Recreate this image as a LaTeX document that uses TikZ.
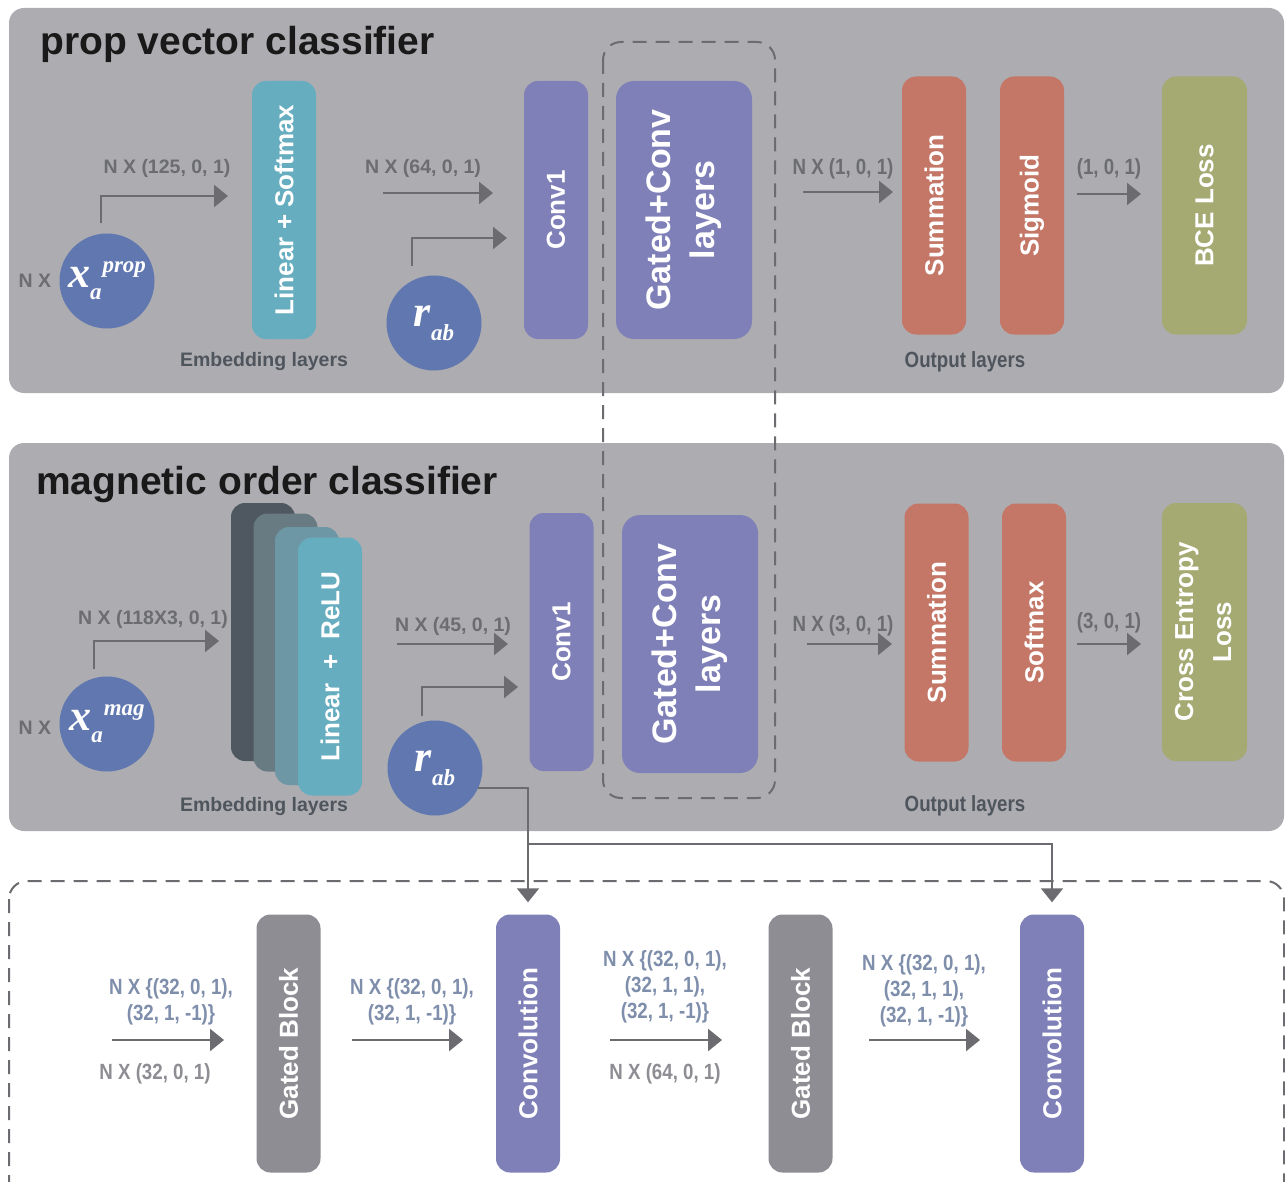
\documentclass[tikz,border=0pt]{standalone}
\usepackage{fontspec}
\setmainfont{Liberation Sans}
\newfontfamily\narrowfnt[FakeStretch=0.85]{Liberation Sans}
\newfontfamily\seriffnt{Liberation Serif}
\usetikzlibrary{arrows.meta}

\definecolor{panelgray}{HTML}{ADACB1}
\definecolor{atomblue}{HTML}{6077B0}
\definecolor{embteal}{HTML}{66ADC0}
\definecolor{emba}{HTML}{4F5860}
\definecolor{embb}{HTML}{687B83}
\definecolor{embc}{HTML}{6D97A5}
\definecolor{convpurple}{HTML}{8080B9}
\definecolor{outred}{HTML}{C47767}
\definecolor{lossgreen}{HTML}{A5AA73}
\definecolor{gategray}{HTML}{8E8D93}
\definecolor{arrgray}{HTML}{6B6B70}
\definecolor{lblgray}{HTML}{6C6D71}
\definecolor{lblblue}{HTML}{7E8EAB}
\definecolor{capgray}{HTML}{4F555C}

\newcommand{\vtext}[1]{\rotatebox{90}{#1}}
\newcommand{\vtwo}[2]{\rotatebox{90}{\begin{tabular}{@{}c@{}}#1\\#2\end{tabular}}}
\newcommand{\atomx}[1]{{\fontsize{44}{44}\selectfont x}\raisebox{-12pt}{\fontsize{23}{23}\selectfont a}\kern1pt\raisebox{15pt}{\fontsize{23}{23}\selectfont #1}}
\newcommand{\bondr}{{\fontsize{44}{44}\selectfont r}\raisebox{-14pt}{\fontsize{23}{23}\selectfont ab}}

\tikzset{
  layerbox/.style={rounded corners=14pt, inner sep=0pt, minimum width=64pt, minimum height=258pt, text=white, font=\fontsize{26}{30}\selectfont\bfseries},
  widebox/.style={layerbox, minimum width=136pt, rounded corners=18pt, font=\fontsize{34}{44}\selectfont\bfseries},
  atomnode/.style={circle, fill=atomblue, minimum size=95pt, inner sep=0pt, text=white, font=\seriffnt\bfseries\itshape},
  arr/.style={draw=arrgray, line width=2.5pt, -{Triangle[length=14pt,width=22pt]}},
  feed/.style={arr, line width=2pt},
  dimlbl/.style={text=lblgray, font=\fontsize{19.5}{22}\selectfont\bfseries},
  narlbl/.style={text=lblgray, font=\narrowfnt\fontsize{22}{26}\selectfont\bfseries, align=center},
  layercap/.style={text=capgray, font=\fontsize{19.5}{22}\selectfont\bfseries},
  boxdash/.style={draw=arrgray, line width=2pt, dash pattern=on 14pt off 9pt, rounded corners=18pt},
  paneltitle/.style={anchor=base west, inner sep=0pt, text=black!90, font=\fontsize{39}{44}\selectfont\bfseries}
}

\begin{document}
\begin{tikzpicture}[x=1pt, y=-1pt]
\useasboundingbox (0,0) rectangle (1285,1182);
\clip (0,0) rectangle (1285,1182);
\fill[white] (0,0) rectangle (1285,1182);
% panels
\fill[panelgray, rounded corners=15pt] (9,8) rectangle (1284,393);
\fill[panelgray, rounded corners=15pt] (9,443) rectangle (1284,831);
\draw[boxdash] (9,881) rectangle (1284,1230);
\draw[boxdash] (603,42) rectangle (775,798);

\node[paneltitle] (t1) at (40,55) {prop vector classifier};
\node[paneltitle] (t2) at (36,494) {magnetic order classifier};

% prop vector classifier
\node[atomnode] (xprop) at (107,281) {\atomx{prop}};
\node[dimlbl] (nx1) at (35,281) {N X};
\node[layerbox, fill=embteal] (linsoft) at (284,210) {\vtext{Linear + Softmax}};
\node[layercap] (emb1cap) at (264,362) {Embedding layers};
\node[atomnode] (rab1) at (434,323) {\bondr};
\node[layerbox, fill=convpurple] (conv1a) at (556,210) {\vtext{Conv1}};
\node[widebox, fill=convpurple] (gca) at (684,210) {\vtwo{Gated+Conv}{layers}};
\node[layerbox, fill=outred] (suma) at (934,205.5) {\vtext{Summation}};
\node[layerbox, fill=outred] (sigm) at (1032,205.5) {\vtext{Sigmoid}};
\node[layerbox, fill=lossgreen, minimum width=85pt] (bce) at (1204.5,205.5) {\vtext{BCE Loss}};
\node[narlbl, text=capgray] (out1cap) at (965,362) {Output layers};

\node[dimlbl] (la1) at (167,168) {N X (125, 0, 1)};
\node[dimlbl] (la2) at (423,168) {N X (64, 0, 1)};
\node[narlbl] (la4) at (843,169) {N X (1, 0, 1)};
\node[narlbl] (la5) at (1109,169) {(1, 0, 1)};

\coordinate (a1e) at (228,196);
\coordinate (a3e) at (507,238);
\draw[arr] ([xshift=-6pt,yshift=10pt]xprop.north) |- (a1e);
\draw[arr] ([xshift=-22pt,yshift=9pt]rab1.north) |- (a3e);

% magnetic order classifier
\node[atomnode] (xmag) at (107,724) {\atomx{mag}};
\node[dimlbl] (nx2) at (35,728) {N X};
\node[layerbox, fill=emba] (embA) at (263,632) {};
\node[layerbox, fill=embb] (embB) at (285.5,642.5) {};
\node[layerbox, fill=embc] (embC) at (307,656) {};
\node[layerbox, fill=embteal] (linrelu) at (330,666.5) {\vtext{Linear~~+~~ReLU}};
\node[layercap] (emb2cap) at (264,806) {Embedding layers};
\node[atomnode] (rab2) at (435,768) {\bondr};
\node[layerbox, fill=convpurple] (conv1m) at (561.5,642) {\vtext{Conv1}};
\node[widebox, fill=convpurple] (gcm) at (690,644) {\vtwo{Gated+Conv}{layers}};
\node[layerbox, fill=outred] (summ) at (936.5,632.5) {\vtext{Summation}};
\node[layerbox, fill=outred] (softm) at (1034,632.5) {\vtext{Softmax}};
\node[layerbox, fill=lossgreen, minimum width=85pt, font=\fontsize{26}{38}\selectfont\bfseries] (celoss) at (1204.5,632) {\vtwo{Cross Entropy}{Loss}};
\node[narlbl, text=capgray] (out2cap) at (965,806) {Output layers};

\node[dimlbl] (lb1) at (153,619) {N X (118X3, 0, 1)};
\node[dimlbl] (lb2) at (453,626) {N X (45, 0, 1)};
\node[narlbl] (lb4) at (843,626) {N X (3, 0, 1)};
\node[narlbl] (lb5) at (1109,623) {(3, 0, 1)};

\coordinate (b1e) at (219,641);
\coordinate (b3e) at (518,687);
\draw[arr] ([xshift=-13pt,yshift=7pt]xmag.north) |- (b1e);
\draw[arr] ([xshift=-13pt,yshift=4pt]rab2.north) |- (b3e);

% straight arrows
\foreach \n/\xa/\xb/\y in {a2/383/493/193, a4/803/893/192, a5/1077/1141/194,
    b2/397/508/644, b4/807/892/644, b5/1077/1141/644,
    c1/112/224/1040, c2/352/463/1040, c3/610/722/1040, c4/869/980/1040}{
  \coordinate (\n s) at (\xa,\y);
  \coordinate (\n e) at (\xb,\y);
  \draw[arr] (\n s) -- (\n e);
}

% gated + conv layers
\node[layerbox, fill=gategray] (gated1) at (288.5,1043.5) {\vtext{Gated Block}};
\node[layerbox, fill=convpurple] (convb1) at (528,1043.5) {\vtext{Convolution}};
\node[layerbox, fill=gategray] (gated2) at (800.5,1043.5) {\vtext{Gated Block}};
\node[layerbox, fill=convpurple] (convb2) at (1052,1043.5) {\vtext{Convolution}};

\node[narlbl, text=lblblue] (lc1) at (171,1002) {N X \{(32, 0, 1),\\(32, 1, -1)\}};
\node[narlbl, text=gategray] (lc1b) at (155,1074) {N X (32, 0, 1)};
\node[narlbl, text=lblblue] (lc2) at (412,1002) {N X \{(32, 0, 1),\\(32, 1, -1)\}};
\node[narlbl, text=lblblue] (lc3) at (665,987) {N X \{(32, 0, 1),\\(32, 1, 1),\\(32, 1, -1)\}};
\node[narlbl, text=gategray] (lc3b) at (665,1074) {N X (64, 0, 1)};
\node[narlbl, text=lblblue] (lc4) at (924,991) {N X \{(32, 0, 1),\\(32, 1, 1),\\(32, 1, -1)\}};

\coordinate (split) at (528,844);
\draw[feed] (rab2.-25) -| ([yshift=12pt]convb1.north);
\draw[feed] (split) -| ([yshift=12pt]convb2.north);
\end{tikzpicture}
\end{document}
